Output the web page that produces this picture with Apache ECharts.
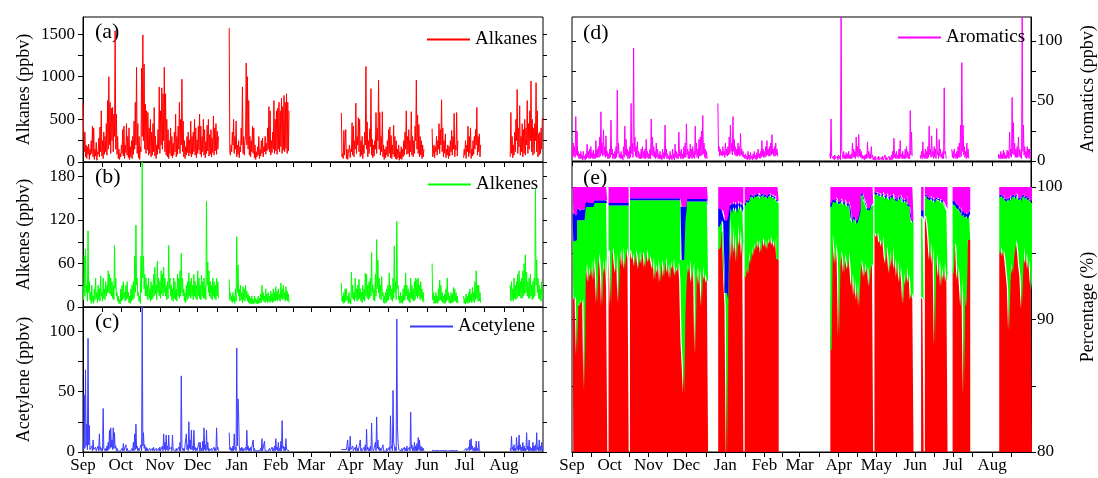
<!DOCTYPE html>
<html><head><meta charset="utf-8">
<script src="https://cdn.jsdelivr.net/npm/echarts@6/dist/echarts.min.js"></script>
<style>html,body{margin:0;padding:0;background:#fff}#chart{width:1098px;height:478px}</style>
</head><body><div id="chart"></div>
<script>
// ---------- DATA ----------
// measurement periods (start dates); values follow at fixed steps from each start
const segStart = ['2013-09-01','2013-12-26','2014-03-25','2014-06-05','2014-06-30','2014-08-06'];
const months = ['Sep','Oct','Nov','Dec','Jan','Feb','Mar','Apr','May','Jun','Jul','Aug'];
const monthStarts = ['2013-09-01','2013-10-01','2013-11-01','2013-12-01','2014-01-01','2014-02-01','2014-03-01','2014-04-01','2014-05-01','2014-06-01','2014-07-01','2014-08-01'];
const alkTicks = [0,500,1000,1500], alkMarks = [0,250,500,750,1000,1250,1500];
const eneTicks = [0,60,120,180], eneMarks = [0,30,60,90,120,150,180];
const aceTicks = [0,50,100], aceMarks = [0,25,50,75,100];
const aroTicks = [0,50,100], aroMarks = [0,25,50,75,100];
const pctTicks = [80,90,100], pctMarks = [80,85,90,95,100];

// concentrations (ppbv), two readings per day, per period
const alkanes = [
[690,370,120,350,60,200,40,180,90,210,30,150,80,250,100,420,60,400,30,150,
70,230,20,120,90,280,60,410,120,600,70,250,40,350,90,300,120,450,80,720,
150,1000,200,700,100,630,250,640,120,560,300,1540,150,560,90,300,40,150,30,100,
60,200,100,380,70,420,40,200,110,450,80,300,50,400,30,180,60,250,40,300,
90,480,150,700,200,1110,100,450,50,300,30,180,120,1100,300,1490,250,1150,150,680,
100,600,140,580,80,400,100,500,60,350,80,450,120,640,70,300,40,200,90,380,
150,880,100,600,200,870,150,800,250,1110,120,800,80,500,60,380,40,250,100,400,
70,300,50,220,80,350,120,560,60,300,90,420,150,700,100,500,200,970,120,480,
60,250,40,180,80,300,110,350,70,260,100,480,60,300,90,350,120,500,80,400,
50,260,100,420,140,560,90,420,60,300,120,500,80,380,50,240,100,430,130,500,
70,320,90,380,60,280,110,540,80,400,130,450,90,360,150,300],
[1570,120,80,200,120,350,200,500,100,300,150,480,60,200,90,250,50,180,120,400,
200,880,100,300,80,250,300,1160,200,1000,150,720,80,300,60,250,120,420,100,400,
50,200,30,120,60,180,80,300,40,150,70,250,100,280,60,180,120,300,90,220,
130,400,150,650,120,600,80,250,110,350,150,720,100,500,130,600,90,630,150,700,
120,600,180,750,100,650,140,780,120,700,160,800,100,700,130,600],
[575,60,100,40,370,80,60,380,40,150,30,100,80,200,50,150,120,460,80,420,
60,250,150,690,100,300,200,520,120,500,60,250,80,300,40,200,100,350,200,1120,
150,470,60,250,100,390,180,860,80,270,50,200,70,250,150,580,100,400,250,960,
150,580,80,300,120,590,60,200,30,150,50,180,80,250,60,380,100,410,50,310,
40,200,90,430,60,300,40,250,30,150,50,200,20,120,40,180,30,150,60,250,
80,350,150,600,90,300,100,380,60,250,120,590,80,300,60,250,100,420,250,960,
150,550,100,440,60,300,80,250,40,200,60,150],
[390,60,100,200,50,180,120,300,80,250,150,450,100,380,200,730,120,400,60,250,
100,330,50,150,80,200,40,180,70,250,120,370,80,300,150,570,60,200,140,580,70,250],
[50,150,80,250,40,200,120,420,60,300,100,400,40,150,70,250,90,300,150,380,200,640,80,300,120,330,60,200],
[60,580,100,300,50,200,80,350,120,500,250,850,100,400,180,660,80,300,120,450,
60,380,100,500,80,400,200,720,100,450,150,600,250,950,120,500,80,400,100,450,
250,930,120,600,60,330,80,350,100,400,150,520]
];
const alkenes = [
[30,10,70,15,80,20,30,8,105,20,35,10,20,5,30,8,15,5,25,10,
40,12,20,6,30,10,25,8,43,15,20,8,40,12,25,10,35,15,30,20,
50,20,45,18,40,15,35,12,30,10,85,25,40,15,20,8,15,5,10,4,
25,8,30,10,35,12,20,8,30,10,35,12,20,6,15,5,25,8,30,10,
35,12,70,20,113,30,40,15,20,8,15,5,70,20,200,40,70,25,45,15,
40,15,30,10,40,12,25,8,35,10,30,12,45,15,55,18,30,10,63,20,
40,15,35,12,50,18,45,15,55,20,40,15,30,10,35,12,85,25,40,15,
30,10,25,8,40,12,35,10,25,8,45,15,40,12,50,15,74,20,40,15,
25,8,20,6,30,10,35,12,47,15,35,12,40,15,30,10,45,15,35,12,
30,10,50,15,40,12,30,10,44,15,35,12,40,12,30,10,146,30,62,20,
50,15,35,12,30,10,40,15,35,12,30,10,40,15,35,12],
[38,10,20,8,15,6,20,8,15,5,25,8,97,20,58,15,25,8,30,10,
20,6,28,10,25,8,30,12,22,8,18,6,15,5,12,4,15,5,10,4,
15,6,12,5,10,4,15,5,12,6,18,6,30,10,20,8,15,6,25,8,
18,6,20,8,15,6,22,8,18,6,25,8,20,8,28,10,22,8,25,10,
18,8,33,12,25,10,30,12,20,8,28,10,22,8,18,6],
[33,8,15,5,20,6,25,8,25,10,15,5,20,6,12,4,48,12,30,10,
20,8,40,12,25,8,30,10,38,12,25,8,20,6,30,10,25,8,47,15,
45,12,30,10,35,12,40,15,75,20,30,10,25,8,45,15,93,25,65,20,
40,12,30,10,42,15,20,6,15,5,20,6,25,8,30,10,47,15,30,10,
25,8,40,12,84,20,35,10,118,25,30,10,15,5,20,6,15,5,25,8,
30,10,47,15,30,10,25,8,20,6,40,12,30,10,25,8,35,10,40,15,
38,12,40,15,30,10,35,12,25,8,20,6],
[60,10,20,5,15,5,20,6,15,5,25,8,37,10,30,8,20,6,15,5,18,5,25,8,40,10,20,6,15,5,20,6,18,6,27,8,25,8,20,6,15,5],
[15,5,12,4,18,6,15,5,20,6,25,8,18,6,27,8,20,6,35,10,50,12,30,8,30,8,20,6],
[30,8,35,10,25,8,40,12,30,10,35,12,45,15,50,15,35,12,40,12,50,15,60,18,72,20,48,15,35,12,40,12,45,15,30,10,35,12,40,15,163,30,65,20,40,12,30,10,25,8,35,12]
];
const acetylene = [
[5,1,47,3,68,5,23,2,94,6,22,2,3,1,5,1,10,2,3,1,
4,1,2,1,5,1,15,2,4,1,3,1,36,3,4,1,3,1,5,1,
8,2,18,3,20,4,10,2,20,3,16,3,5,1,3,1,2,1,1,0.5,
2,1,3,1,7,1,2,1,6,1,3,1,2,1,1,0.5,2,1,3,1,
8,1,15,2,23,3,5,1,3,1,2,1,6,1,120,5,16,3,6,1,
4,1,3,1,2,1,3,1,2,1,3,1,4,1,2,1,3,1,2,1,
3,1,4,1,2,1,5,1,15,2,8,1,14,2,5,1,14,2,3,1,
4,1,14,2,3,1,2,1,3,1,2,1,4,1,8,1,63,4,5,1,
3,1,2,1,15,2,6,1,25,3,10,2,18,2,5,1,18,2,4,1,
3,1,2,1,8,1,8,1,3,1,9,1,20,2,6,1,18,2,8,1,
3,1,2,1,3,1,2,1,4,1,3,1,20,2,4,1],
[16,2,4,1,3,1,5,1,15,2,4,1,86,5,44,30,5,1,3,1,
4,1,3,1,2,1,4,1,18,2,5,1,3,1,4,1,2,1,10,1,
3,1,1,0.5,2,1,1,0.5,2,1,3,1,11,1,2,1,9,1,2,1,
1,0.5,2,1,3,1,2,1,4,1,3,1,5,1,11,2,4,1,8,1,
3,1,9,1,26,3,5,1,4,1,11,2,3,1,2,1],
[2,0.5,3,1,2,0.5,3,1,2,1,10,1,4,1,13,2,3,1,5,1,
2,1,4,1,6,1,3,1,2,1,10,1,3,1,2,1,4,1,6,1,
19,2,4,1,3,1,5,1,24,3,4,1,2,1,8,1,29,3,10,2,
4,1,3,1,2,1,6,1,2,0.5,1,0.5,3,1,2,1,4,1,30,3,
5,1,51,8,8,1,4,1,110,22,8,2,3,1,2,1,3,1,2,1,
4,1,3,1,5,1,2,1,4,1,33,3,6,1,4,1,8,1,5,1,
7,1,12,2,10,1,5,1,4,1,3,1],
[1.5,0.5,0.8,0.4,1,0.5,0.6,0.3,1.2,0.5,0.8,0.4,1,0.5,1.5,0.6,1,0.4,0.7,0.3,1.2,0.5,1,0.4,0.8,0.3,1.5,0.5,1,0.4,0.8,0.3,1.2,0.5,1.5,0.6,1,0.4,0.8,0.3,1.2,0.5],
[1,0.5,2,0.5,3,1,2,0.5,4,1,10,2,11,2,5,1,3,1,4,1,9,1,3,1,9,1,2,0.5],
[3,1,13,2,4,1,6,1,3,1,12,2,5,1,14,2,6,1,4,1,8,1,5,1,3,1,16,2,5,1,10,1,4,1,3,1,8,1,5,1,6,1,16,2,4,1,10,1,5,1,8,1]
];
const aromatics = [
[10,3,15,4,12,3,37,5,25,4,8,2,6,2,8,2,5,1,8,2,
4,1,6,2,14,3,8,2,10,2,12,3,7,2,9,2,6,2,17,3,
10,3,12,3,20,4,41,6,15,4,26,5,12,3,21,4,8,2,6,2,
10,3,34,5,10,2,6,2,8,2,12,3,59,6,15,3,6,2,8,2,
5,1,12,3,29,5,18,4,10,2,8,2,12,3,48,6,15,3,94,8,
20,4,12,3,16,3,8,2,6,2,10,2,12,3,8,2,10,2,18,3,
8,2,6,2,10,2,35,5,20,4,12,3,8,2,15,3,10,2,6,2,
8,2,5,1,10,2,7,2,30,4,10,2,6,2,4,1,8,2,5,1,
10,2,6,1,14,3,8,2,6,2,24,4,8,2,10,2,6,2,12,3,
15,3,31,5,10,2,8,2,14,3,10,2,12,3,8,2,29,5,15,3,
10,2,18,4,20,4,25,5,38,6,15,3,10,2,8,2],
[48,8,12,4,10,5,8,4,12,5,8,3,15,5,10,4,12,5,20,6,
30,8,15,5,37,8,18,5,12,4,10,4,15,5,12,4,23,5,10,4,
8,3,5,2,6,2,4,1,8,2,5,1,7,2,4,1,6,2,8,2,
5,1,7,2,10,3,6,2,8,3,17,4,10,3,8,3,12,4,17,5,
10,4,12,4,15,5,22,6,10,4,12,4,15,5,10,4],
[6,2,35,4,5,2,4,1,5,2,3,1,4,1,5,2,4,1,120,8,
6,2,8,2,5,2,7,2,6,2,8,2,5,2,6,2,15,3,10,3,
8,2,20,4,12,3,22,4,10,3,8,2,5,2,4,1,5,2,6,2,
16,3,8,2,6,2,12,3,5,1,3,1,4,1,2,1,3,1,4,1,
2,1,3,1,4,1,2,1,5,1,3,1,2,1,4,1,3,1,5,1,
8,2,19,3,6,2,8,2,5,2,10,2,17,3,6,2,8,2,5,2,
10,2,12,3,8,2,6,2,42,5,24,4],
[5,2,8,2,16,3,6,2,10,2,8,2,12,3,29,5,10,3,21,4,8,2,12,3,10,2,27,5,8,2,18,4,10,3,6,2,8,2,61,6,8,2],
[10,3,8,2,10,3,6,2,8,2,12,3,15,3,30,4,82,8,30,5,12,3,8,2,15,3,10,2],
[6,2,5,2,8,2,6,2,9,2,7,2,5,2,9,3,8,2,24,4,10,3,53,6,32,5,15,3,10,3,12,3,20,4,10,3,8,2,120,8,30,5,12,3,8,2,12,3,10,2,10,3]
];

// composition (%), one value per day, per period
const alkPct = [
[91.7,91.5,91.8,87.3,91.3,91.0,91.5,91.2,91.6,84.7,
93.5,94.2,92.8,94.0,93.2,94.5,93.0,
94.8,93.5,91.2,94.2,95.0,93.8,91.0,94.5,93.5,94.8,92.5,
null,
95.2,91.0,94.8,95.5,94.2,93.5,95.0,91.2,94.6,95.3,94.0,95.5,93.8,94.9,95.4,94.5,
null,
95.2,94.5,95.0,94.0,95.3,94.8,93.8,95.2,94.2,94.9,95.1,93.9,94.6,95.3,94.3,94.8,
94.5,93.8,94.7,93.0,94.2,93.5,94.6,92.8,93.9,94.5,93.2,94.0,94.7,93.5,94.2,93.1,94.4,93.8,94.6,93.3,94.0,93.6,94.4,93.0,
88.4,86.5,84.4,90.5,92.8,
94.2,93.5,94.5,92.8,93.6,94.3,87.4,93.2,94.0,92.6,93.8,91.0,94.1,93.0,93.5,92.8,93.0],
[95.3,95.5,96.8,96.5,93.0,91.0,79.0,90.5,95.0,97.8,94.5,97.0,95.0,96.5,94.3,97.2,95.5,96.8,94.8,96.0,
null,
93.2,94.0,93.5,95.0,94.2,95.5,94.8,95.8,95.2,96.0,95.4,96.1,95.0,95.8,96.2,95.5,96.0,95.3,96.1,95.7,96.3,95.6,96.0,95.4,96.2,94.6,94.5],
[87.7,96.5,95.5,94.2,95.8,94.5,88.7,94.0,95.2,94.6,93.5,95.0,94.3,93.8,95.1,94.0,
92.5,93.5,91.8,93.0,91.5,92.8,91.0,93.5,
94.5,94.0,93.2,94.3,93.5,94.0,92.5,93.8,94.2,94.0,
null,
96.5,96.2,96.6,95.8,96.0,95.5,96.3,95.0,94.2,95.6,94.8,93.5,95.2,94.0,95.5,93.8,94.6,93.2,94.5,92.8,
94.0,93.0,91.2,93.5,92.6,94.0,92.8,93.5,91.5,92.0,91.6],
[91.7,91.5,null,97.8,97.2,96.0,94.5,95.8,94.2,95.5,88.0,94.0,95.0,93.2,94.6,92.5,94.0,93.0,94.3,92.8,93.5],
[93.5,95.8,95.5,93.0,94.0,92.5,91.0,93.2,84.3,92.0,91.0,94.5,96.0,96.0],
[95.0,95.5,94.8,95.2,94.5,93.5,92.5,89.2,93.0,94.2,93.5,94.8,95.5,96.0,95.2,94.0,93.2,90.8,93.5,95.5,94.2,95.0,93.8,94.5,93.0,92.2]
];
const enePct = [
[4.2,4.4,4.1,8.7,6.2,6.5,6.0,6.3,5.9,12.8,
5.0,4.3,5.7,4.5,5.3,4.0,5.5,
4.0,5.3,7.6,4.6,3.8,5.0,7.8,4.3,5.3,4.0,6.3,
null,
3.4,7.6,3.8,3.1,4.4,5.1,3.6,7.4,4.0,3.3,4.6,3.1,4.8,3.7,3.2,4.1,
null,
3.8,4.5,4.0,5.0,3.7,4.2,5.2,3.8,4.8,4.1,3.9,5.1,4.4,3.7,4.7,4.2,
4.5,5.2,4.3,6.0,4.8,5.5,4.4,6.2,5.1,4.5,5.8,5.0,4.3,5.5,4.8,5.9,4.6,5.2,4.4,5.7,5.0,5.4,4.6,6.0,
6.1,8.0,10.1,7.0,5.5,
4.7,5.4,4.4,6.1,5.3,4.6,11.5,5.7,4.9,6.3,5.1,7.9,4.8,5.9,5.4,6.1,5.6],
[1.7,1.7,0.7,0.8,1.0,1.0,13.0,1.0,2.5,0.6,3.5,1.5,3.2,2.0,3.7,1.5,2.8,1.8,3.3,2.4,
null,
5.4,4.9,5.3,4.0,5.0,3.8,4.3,3.6,4.0,3.4,3.9,3.3,4.1,3.5,3.2,3.7,3.3,3.8,3.3,3.6,3.1,3.6,3.3,3.7,3.0,4.3,4.3],
[10.8,2.5,3.4,4.6,3.3,4.4,10.0,4.8,3.8,4.2,5.1,3.9,4.4,4.7,3.7,4.4,
5.0,3.8,5.8,4.5,5.7,4.6,6.8,4.7,
4.8,5.4,5.8,4.5,5.0,4.3,5.7,4.6,4.4,4.6,
null,
3.0,3.2,2.9,3.5,3.4,3.7,3.2,4.3,4.9,3.8,4.4,5.5,4.1,5.1,3.9,5.4,4.4,5.7,4.7,6.2,
5.3,6.1,7.6,5.5,6.2,5.2,5.8,5.0,6.3,5.3,5.8],
[6.1,6.1,null,1.5,2.0,3.1,4.5,3.4,4.7,3.6,10.8,5.0,4.1,5.7,4.4,6.3,4.9,5.8,4.3,5.6,4.7],
[5.2,2.8,3.0,5.4,4.3,5.5,7.2,4.6,13.6,5.7,6.8,3.1,1.8,2.0],
[4.2,3.8,4.3,4.1,4.5,5.4,6.6,9.7,6.2,4.8,5.7,4.5,3.6,3.4,4.0,5.0,5.9,8.1,5.7,3.8,4.9,4.2,5.2,4.6,5.9,6.6]
];
const acePct = [
[2.1,2.0,2.1,1.8,0.8,0.9,0.7,0.8,0.8,0.8,
0.3,0.4,0.3,0.3,0.4,0.3,0.3,
0.2,0.2,0.2,0.2,0.2,0.2,0.2,0.2,0.2,0.2,0.2,
null,
0.2,0.2,0.2,0.2,0.2,0.2,0.2,0.2,0.2,0.2,0.2,0.2,0.2,0.2,0.2,0.2,
null,
0.15,0.15,0.15,0.15,0.15,0.15,0.15,0.15,0.15,0.15,0.15,0.15,0.15,0.15,0.15,0.15,
0.15,0.15,0.15,0.15,0.15,0.15,0.15,0.15,0.15,0.15,0.15,0.15,0.15,0.15,0.15,0.15,0.15,0.15,0.15,0.15,0.15,0.15,0.15,0.15,
4.0,4.0,4.0,1.0,0.3,
0.2,0.2,0.2,0.2,0.2,0.2,0.2,0.2,0.2,0.2,0.2,0.2,0.2,0.2,0.2,0.2,0.2],
[1.4,1.2,0.8,0.9,3.8,5.5,5.5,6.3,1.0,0.4,0.6,0.4,0.5,0.4,0.6,0.3,0.4,0.3,0.5,0.4,
null,
0.15,0.15,0.15,0.15,0.15,0.15,0.15,0.15,0.15,0.15,0.15,0.15,0.15,0.15,0.15,0.15,0.15,0.15,0.15,0.15,0.15,0.15,0.15,0.15,0.15,0.15,0.15],
[0.3,0.15,0.15,0.15,0.15,0.15,0.15,0.15,0.15,0.15,0.15,0.15,0.15,0.15,0.15,0.15,
0.2,0.2,0.2,0.2,0.2,0.2,0.2,0.2,
0.15,0.15,0.15,0.15,0.15,0.15,0.15,0.15,0.15,0.15,
null,
0.15,0.15,0.15,0.15,0.15,0.15,0.15,0.15,0.15,0.15,0.15,0.15,0.15,0.15,0.15,0.15,0.15,0.15,0.15,0.15,
0.15,0.15,0.15,0.15,0.15,0.15,0.15,0.15,0.15,0.15,0.15],
[0.5,0.6,null,0.15,0.15,0.15,0.15,0.15,0.15,0.15,0.15,0.15,0.15,0.15,0.15,0.15,0.15,0.15,0.15,0.15,0.15],
[0.3,0.3,0.3,0.3,0.3,0.3,0.3,0.3,0.3,0.3,0.3,0.3,0.3,0.3],
[0.15,0.15,0.15,0.15,0.15,0.15,0.15,0.15,0.15,0.15,0.15,0.15,0.15,0.15,0.15,0.15,0.15,0.15,0.15,0.15,0.15,0.15,0.15,0.15,0.15,0.15]
];
const aroPct = [
[2.1,2.2,2.1,2.3,1.9,1.9,1.9,1.9,1.9,1.8,
1.3,1.3,1.3,1.3,1.3,1.3,1.3,
1.1,1.1,1.1,1.1,1.1,1.1,1.1,1.1,1.1,1.1,1.1,
null,
1.3,1.3,1.3,1.3,1.3,1.3,1.3,1.3,1.3,1.3,1.3,1.3,1.3,1.3,1.3,1.3,
null,
0.9,0.9,0.9,0.9,0.9,0.9,0.9,0.9,0.9,0.9,0.9,0.9,0.9,0.9,0.9,0.9,
0.9,0.9,0.9,0.9,0.9,0.9,0.9,0.9,0.9,0.9,0.9,0.9,0.9,0.9,0.9,0.9,0.9,0.9,0.9,0.9,0.9,0.9,0.9,0.9,
1.5,1.5,1.5,1.5,1.5,
1.0,1.0,1.0,1.0,1.0,1.0,1.0,1.0,1.0,1.0,1.0,1.0,1.0,1.0,1.0,1.0,1.3],
[1.7,1.7,1.8,1.9,2.3,2.6,2.6,2.3,1.6,1.3,1.5,1.2,1.4,1.2,1.5,1.1,1.4,1.2,1.5,1.3,
null,
1.3,1.0,1.1,0.9,0.7,0.6,0.8,0.5,0.7,0.5,0.6,0.5,0.8,0.6,0.5,0.7,0.6,0.8,0.5,0.6,0.5,0.7,0.6,0.8,0.7,1.0,1.1],
[1.3,0.9,1.0,1.1,0.8,1.0,1.2,1.1,0.9,1.1,1.3,1.0,1.2,1.4,1.1,1.5,
2.4,2.6,2.3,2.4,2.7,2.5,2.1,1.7,
0.6,0.5,0.9,1.1,1.4,1.6,1.7,1.5,1.3,1.3,
null,
0.4,0.5,0.4,0.6,0.5,0.7,0.4,0.6,0.8,0.5,0.7,0.9,0.6,0.8,0.5,0.7,0.9,1.0,0.7,0.9,
0.6,0.8,1.1,0.9,1.1,0.7,1.3,1.4,2.1,2.6,2.5],
[1.8,1.9,null,0.6,0.7,0.8,0.9,0.7,1.0,0.8,1.1,0.9,0.8,1.0,0.9,1.1,1.0,1.1,1.3,1.5,1.7],
[1.1,1.2,1.3,1.4,1.5,1.8,1.6,2.0,1.9,2.1,2.0,2.2,2.0,1.8],
[0.7,0.6,0.8,0.6,0.9,1.0,0.8,1.0,0.7,0.9,0.7,0.6,0.8,0.5,0.7,0.9,0.8,1.0,0.7,0.6,0.8,0.7,0.9,0.8,1.0,1.1]
];

// ---------- CHART ----------
const FONT = '"Liberation Serif","Times New Roman",serif';
const DAY = 86400000;
function ts(s){const p=s.split('-').map(Number);return new Date(p[0],p[1]-1,p[2]).getTime();}
const xMin = ts('2013-09-01'), xMax = ts('2014-09-01');
const monthTs = monthStarts.map(ts);
const tickTs = [];
monthTs.forEach((t,i)=>{const nx = i+1<monthTs.length?monthTs[i+1]:xMax; tickTs.push(t); tickTs.push(Math.round((t+nx)/2));});

// concentration series: [time, value], a gap point after each period
function buildLine(segs){
  const out=[]; const step=DAY/2;
  segs.forEach((vals,k)=>{
    const t0=ts(segStart[k]);
    vals.forEach((v,i)=>out.push([t0+i*step, v==null?'-':v]));
    out.push([t0+vals.length*step,'-']);
  });
  return out;
}
// composition series: [value, time] (value first so the stack runs on the value), daily columns
function buildPct(segs){
  const out=[];
  segs.forEach((vals,k)=>{
    const t0=ts(segStart[k]) + DAY/2;
    if(k>0) out.push(['-', t0-DAY]);
    vals.forEach((v,i)=>out.push([v==null?'-':v, t0+i*DAY]));
    out.push(['-', t0+vals.length*DAY]);
  });
  return out;
}
function monthLabel(v){
  const i = monthTs.findIndex(m=>Math.abs(m-v)<DAY);
  return i>=0?months[i]:'';
}
function xAx(gi, labels, show){
  return {type:'value', gridIndex:gi, min:xMin, max:xMax, show:show!==false, scale:true,
    axisLine:{show:true, onZero:false, lineStyle:{color:'#000',width:1}},
    axisTick:{show:true, inside:false, length:5, customValues:tickTs, lineStyle:{color:'#000'}},
    axisLabel:{show:labels, customValues:monthTs, formatter:monthLabel, margin:5, color:'#000', fontFamily:FONT, fontSize:17, hideOverlap:false},
    splitLine:{show:false}, minorTick:{show:false}};
}
function xTop(gi){
  return {type:'value', gridIndex:gi, min:xMin, max:xMax, position:'top', scale:true,
    axisLine:{show:false}, axisLabel:{show:false}, splitLine:{show:false},
    axisTick:{show:true, inside:true, length:4, customValues:tickTs, lineStyle:{color:'#000'}}};
}
function yAx(gi, min, max, pos, labels, marks, name, gap){
  const o = {type:'value', gridIndex:gi, min:min, max:max, position:pos,
    axisLine:{show:true, onZero:false, lineStyle:{color:'#000',width:1}},
    axisTick:{show:true, inside:false, length:5, customValues:marks, lineStyle:{color:'#000'}},
    axisLabel:{show:!!labels, customValues:labels||marks, formatter:v=>String(v), margin:pos==='left'?8:6, color:'#000', fontFamily:FONT, fontSize:17},
    splitLine:{show:false}};
  if(name){o.name=name;o.nameLocation='middle';o.nameGap=gap;o.nameRotate=90;
    o.nameTextStyle={fontFamily:FONT,fontSize:18,color:'#000'};}
  return o;
}
function mirror(gi,min,max,pos,marks,inside){
  return {type:'value', gridIndex:gi, min:min, max:max, position:pos,
    axisLine:{show:false}, axisLabel:{show:false}, splitLine:{show:false},
    axisTick:{show:true, inside:inside, length:4, customValues:marks, lineStyle:{color:'#000'}}};
}
const gridStyle = {show:true, borderColor:'#000', borderWidth:1, backgroundColor:'transparent', containLabel:false};
const lineS = (name, xi, yi, data, color)=>({name, type:'line', xAxisIndex:xi, yAxisIndex:yi, data,
  showSymbol:false, symbol:'none', lineStyle:{width:1,color}, itemStyle:{color}, clip:true, animation:false, z:3});
const pctS = (name, data, color)=>({name, type:'line', xAxisIndex:5, yAxisIndex:10, data, encode:{x:1, y:0},
  stack:'pct', step:'middle', connectNulls:false,
  showSymbol:false, symbol:'none', lineStyle:{width:0,color}, itemStyle:{color}, areaStyle:{color, opacity:1}, clip:true, animation:false});

const legendCommon = {padding:0, itemWidth:43, itemHeight:2, icon:'rect', selectedMode:false,
  textStyle:{fontFamily:FONT, fontSize:19, color:'#000'}};
const E_MAX = 80 + 290/13.25;

const option = {
  animation:false,
  backgroundColor:'#fff',
  grid:[
    Object.assign({left:83, top:17, width:460, height:145}, gridStyle),
    Object.assign({left:83, top:162, width:460, height:145}, gridStyle),
    Object.assign({left:83, top:307, width:460, height:145}, gridStyle),
    Object.assign({left:572, top:17, width:460, height:144}, gridStyle),
    Object.assign({left:572, top:162, width:460, height:290}, gridStyle),
    {left:572, top:187, width:460, height:265, show:false}
  ],
  xAxis:[ xAx(0,false), xAx(1,false), xAx(2,true), xAx(3,false), xAx(4,true), xAx(5,false,false), xTop(0), xTop(3) ],
  yAxis:[
    yAx(0,0,1700,'left',alkTicks,alkMarks,'Alkanes (ppbv)',50),
    mirror(0,0,1700,'right',alkMarks,false),
    yAx(1,0,200,'left',eneTicks,eneMarks,'Alkenes (ppbv)',50),
    mirror(1,0,200,'right',eneMarks,false),
    yAx(2,0,120,'left',aceTicks,aceMarks,'Acetylene (ppbv)',50),
    mirror(2,0,120,'right',aceMarks,false),
    yAx(3,0,120,'right',aroTicks,aroMarks,'Aromatics (ppbv)',48),
    mirror(3,0,120,'left',aroMarks,true),
    yAx(4,80,E_MAX,'right',pctTicks,pctMarks,'Percentage (%)',48),
    mirror(4,80,E_MAX,'left',pctMarks,true),
    {type:'value', gridIndex:5, min:80, max:100, show:false}
  ],
  legend:[
    Object.assign({data:['Alkanes'], left:427, top:30}, legendCommon),
    Object.assign({data:['Alkenes'], left:428, top:175}, legendCommon),
    Object.assign({data:['Acetylene'], left:410, top:317}, legendCommon),
    Object.assign({data:['Aromatics'], left:898, top:28}, legendCommon)
  ],
  graphic:[
    {type:'text', left:95, top:21, style:{text:'(a)', font:'22px "Liberation Serif"', fill:'#000'}},
    {type:'text', left:95, top:166, style:{text:'(b)', font:'22px "Liberation Serif"', fill:'#000'}},
    {type:'text', left:95, top:311, style:{text:'(c)', font:'22px "Liberation Serif"', fill:'#000'}},
    {type:'text', left:583, top:22, style:{text:'(d)', font:'22px "Liberation Serif"', fill:'#000'}},
    {type:'text', left:583, top:167, style:{text:'(e)', font:'22px "Liberation Serif"', fill:'#000'}}
  ],
  series:[
    pctS('alkanes %', buildPct(alkPct), '#ff0000'),
    pctS('alkenes %', buildPct(enePct), '#00ff00'),
    pctS('acetylene %', buildPct(acePct), '#0000ff'),
    pctS('aromatics %', buildPct(aroPct), '#ff00ff'),
    lineS('Alkanes',0,0,buildLine(alkanes),'#ff0000'),
    lineS('Alkenes',1,2,buildLine(alkenes),'#00ff00'),
    lineS('Acetylene',2,4,buildLine(acetylene),'#3c3cff'),
    lineS('Aromatics',3,6,buildLine(aromatics),'#ff00ff')
  ]
};
const chart = echarts.init(document.getElementById('chart'), null, {renderer:'canvas'});
chart.setOption(option);
</script>
</body></html>
